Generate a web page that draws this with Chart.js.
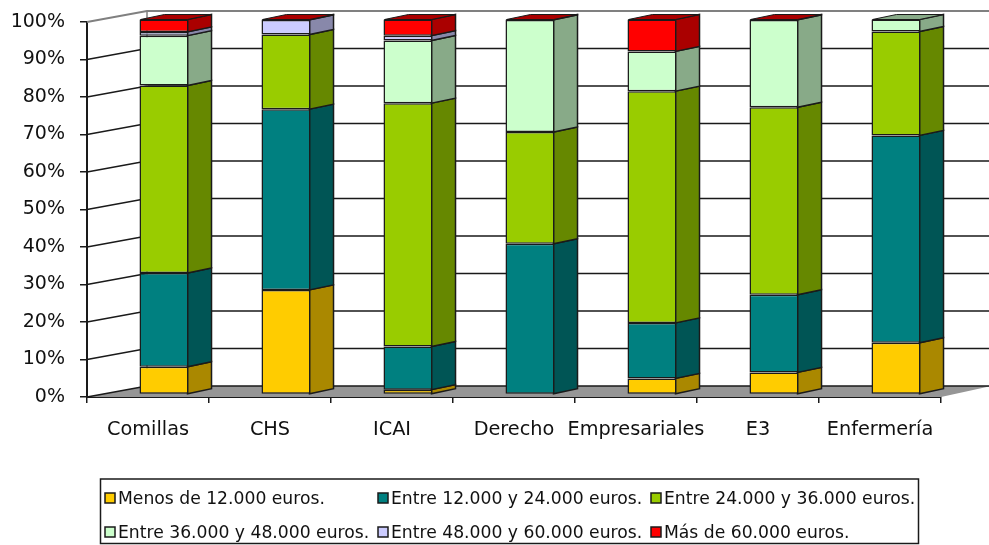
<!DOCTYPE html>
<html>
<head>
<meta charset="utf-8">
<title>Renta por centro</title>
<script src="https://cdn.jsdelivr.net/npm/chart.js@4"></script>
<style>
    html, body { margin: 0; padding: 0; background: #fff; }
    #wrap { position: relative; width: 989px; height: 545px; overflow: hidden; }
    #chart { filter: blur(0.4px); }
</style>
</head>
<body>
<div id="wrap"><canvas id="chart" width="989" height="545"></canvas></div>
<script>
const categories = ['Comillas', 'CHS', 'ICAI', 'Derecho', 'Empresariales', 'E3', 'Enfermería'];

const menos12 = [7.4, 27.9, 1.3, 0, 4.3, 5.9, 13.8];
const entre12y24 = [25.0, 48.2, 11.5, 40.2, 14.8, 20.7, 55.3];
const entre24y36 = [50.0, 19.9, 64.9, 29.8, 61.8, 50.0, 27.7];
const entre36y48 = [13.3, 0, 16.7, 29.9, 10.6, 23.3, 3.2];
const entre48y60 = [1.0, 3.9, 1.3, 0, 0, 0, 0];
const mas60 = [3.3, 0.1, 4.3, 0.1, 8.5, 0.1, 0];

const seriesNames = [
    'Menos de 12.000 euros.',
    'Entre 12.000 y 24.000 euros.',
    'Entre 24.000 y 36.000 euros.',
    'Entre 36.000 y 48.000 euros.',
    'Entre 48.000 y 60.000 euros.',
    'Más de 60.000 euros.'
];
const seriesValues = [menos12, entre12y24, entre24y36, entre36y48, entre48y60, mas60];
const frontColors = ['#FFCC00', '#008080', '#99CC00', '#CCFFCC', '#CCCCFF', '#FF0000'];
const sideColors = ['#AA8800', '#005555', '#668800', '#88AA88', '#8888AA', '#AA0000'];

const fontName = '"DejaVu Sans", Verdana, sans-serif';
const lineColor = '#1a1a1a';

// profundidad del efecto 3D
const wallDx = 60, wallDy = -11;
const barDx = 16, barDy = -2.5;
const sideDx = 24, sideDy = -5;

function polygon(ctx, points, fill, stroke, width) {
    ctx.beginPath();
    points.forEach((p, i) => i ? ctx.lineTo(p[0], p[1]) : ctx.moveTo(p[0], p[1]));
    ctx.closePath();
    if (fill) { ctx.fillStyle = fill; ctx.fill(); }
    if (stroke) { ctx.strokeStyle = stroke; ctx.lineWidth = width; ctx.stroke(); }
}

// Paredes, suelo y rejilla
const wallsPlugin = {
    id: 'walls',
    beforeDatasetsDraw(chart) {
        const ctx = chart.ctx;
        const y = chart.scales.y;
        const left = chart.chartArea.left, right = chart.chartArea.right;
        const y0 = y.getPixelForValue(0);
        const farRight = chart.width + 2;

        ctx.save();
        polygon(ctx, [[left, y0], [left + wallDx, y0 + wallDy], [farRight, y0 + wallDy], [right, y0]], '#969696');

        y.ticks.forEach(tick => {
            const py = y.getPixelForValue(tick.value);
            ctx.beginPath();
            ctx.moveTo(left, py);
            ctx.lineTo(left + wallDx, py + wallDy);
            ctx.lineTo(farRight, py + wallDy);
            ctx.strokeStyle = tick.value === 100 ? '#808080' : lineColor;
            ctx.lineWidth = tick.value === 100 ? 2 : 1.5;
            ctx.stroke();
        });

        ctx.beginPath();
        ctx.moveTo(left + wallDx, y.getPixelForValue(100) + wallDy);
        ctx.lineTo(left + wallDx, y0 + wallDy);
        ctx.strokeStyle = '#808080';
        ctx.lineWidth = 1.5;
        ctx.stroke();
        ctx.restore();
    }
};

// Caras laterales y superior de cada barra, desplazadas con el mismo offset que el frente
const barsPlugin = {
    id: 'bars3d',
    beforeDatasetsDraw(chart) {
        const ctx = chart.ctx;
        ctx.save();
        ctx.translate(barDx, barDy);
        categories.forEach((_, c) => {
            let topBar = null;
            let topColor = null;
            chart.data.datasets.forEach((ds, s) => {
                const el = chart.getDatasetMeta(s).data[c];
                if (!ds.data[c]) return;
                const half = el.width / 2;
                const xr = el.x + half - 1;
                polygon(ctx, [[xr, el.y], [xr + sideDx, el.y + sideDy], [xr + sideDx, el.base + sideDy], [xr, el.base]],
                    sideColors[s], lineColor, 1.5);
                topBar = el;
                topColor = sideColors[s];
            });
            if (topBar) {
                const half = topBar.width / 2;
                const xl = topBar.x - half + 1, xr = topBar.x + half - 1;
                polygon(ctx, [[xl, topBar.y], [xl + sideDx, topBar.y + sideDy], [xr + sideDx, topBar.y + sideDy], [xr, topBar.y]],
                    topColor, lineColor, 1);
            }
        });
    },
    afterDatasetsDraw(chart) {
        chart.ctx.restore();
    }
};

// Leyenda en tres columnas con marco
const legendPlugin = {
    id: 'gridLegend',
    afterDraw(chart) {
        const ctx = chart.ctx;
        const swatchX = [105, 378, 651];
        const rowY = [498, 532];
        ctx.save();
        ctx.strokeStyle = lineColor;
        ctx.lineWidth = 1.5;
        ctx.strokeRect(100.5, 479, 818, 64.5);
        ctx.font = '17.2px ' + fontName;
        ctx.textBaseline = 'middle';
        ctx.textAlign = 'left';
        chart.data.datasets.forEach((ds, i) => {
            const x = swatchX[i % 3], y = rowY[Math.floor(i / 3)];
            ctx.fillStyle = ds.backgroundColor;
            ctx.fillRect(x, y - 5, 10, 10);
            ctx.strokeStyle = lineColor;
            ctx.lineWidth = 1.5;
            ctx.strokeRect(x, y - 5, 10, 10);
            ctx.fillStyle = '#111';
            ctx.fillText(ds.label, x + 13, y + 1.5);
        });
        ctx.restore();
    }
};

new Chart(document.getElementById('chart').getContext('2d'), {
    type: 'bar',
    data: {
        labels: categories,
        datasets: seriesNames.map((name, i) => ({
            label: name,
            data: seriesValues[i],
            backgroundColor: frontColors[i],
            borderColor: lineColor,
            borderWidth: ctx => ctx.raw ? 1.5 : 0,
            borderSkipped: false,
            clip: false
        }))
    },
    options: {
        responsive: false,
        animation: false,
        barPercentage: 0.402,
        categoryPercentage: 1,
        layout: { padding: { left: 0, right: 48, top: 22, bottom: 0 } },
        plugins: {
            legend: { display: false },
            tooltip: { enabled: false }
        },
        scales: {
            x: {
                stacked: true,
                afterFit(scale) { scale.height = 148; scale.paddingLeft = 0; scale.paddingRight = 0; },
                grid: { drawOnChartArea: false, color: lineColor, tickLength: 6, lineWidth: 1.5 },
                border: { color: lineColor, width: 2 },
                ticks: { color: '#111', padding: 15, maxRotation: 0, autoSkip: false, font: { family: fontName, size: 19.3 } }
            },
            y: {
                stacked: true,
                min: 0,
                max: 100,
                afterFit(scale) { scale.width = 87; scale.paddingTop = 0; scale.paddingBottom = 0; },
                grid: { drawOnChartArea: false, color: lineColor, tickLength: 7, lineWidth: 1.5 },
                border: { color: lineColor, width: 2 },
                ticks: {
                    stepSize: 10,
                    color: '#111',
                    padding: 15,
                    font: { family: fontName, size: 19 },
                    callback: value => value + '%'
                }
            }
        }
    },
    plugins: [wallsPlugin, barsPlugin, legendPlugin]
});
</script>
</body>
</html>
